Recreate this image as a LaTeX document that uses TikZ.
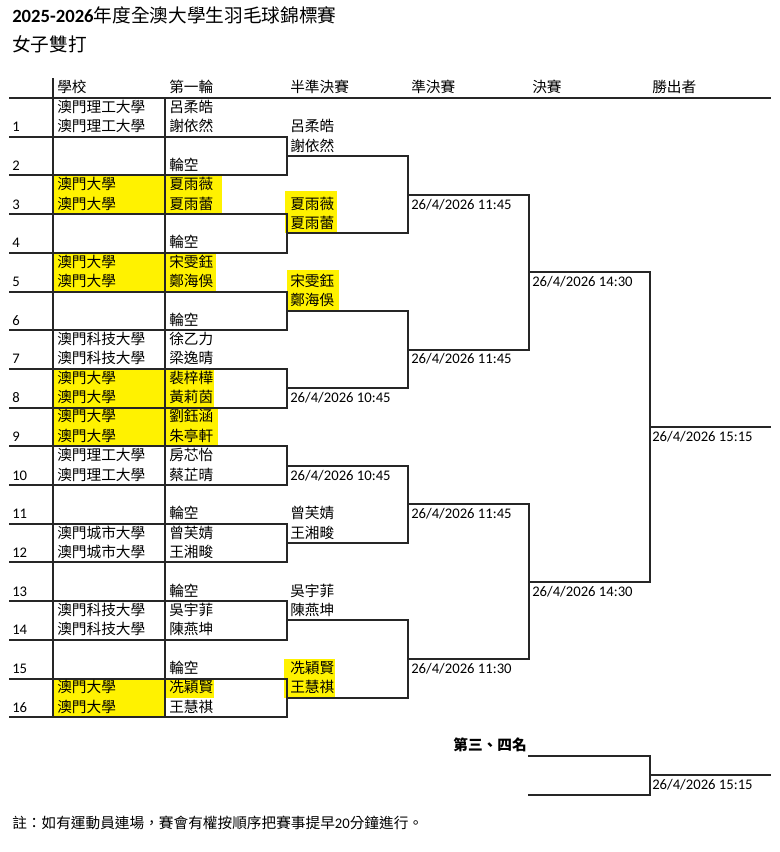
\documentclass[tikz,border=0pt]{standalone}
\usepackage{fontspec}
\setmainfont{Carlito}
\newfontfamily\cjk{Noto Sans CJK TC}[Script=CJK,Language=Chinese Traditional]
\begin{document}
\begin{tikzpicture}[x=0.75pt,y=-14.5125pt,
  ln/.style={line width=1.5pt,draw=black!85,line cap=rect,line join=miter},
  t/.style={anchor=west,inner sep=0pt,text height=0.85em,text depth=0.15em,font=\fontsize{11pt}{13pt}\selectfont},
  c/.style={t,font=\fontsize{11pt}{13pt}\selectfont\cjk},
  hl/.style={fill=yellow,draw=none}]
\useasboundingbox (0,-5.0646) rectangle (780,38.966);
\fill[white] (0,-5.0646) rectangle (780,38.966);

% ---------- highlights ----------
\fill[hl] (54,4) rectangle (165,6);   \fill[hl] (166,4) rectangle (222,6);
\fill[hl] (54,8) rectangle (165,10);  \fill[hl] (166,8) rectangle (216,10);
\fill[hl] (54,14) rectangle (165,16); \fill[hl] (166,14) rectangle (214,16);
\fill[hl] (54,16) rectangle (165,18); \fill[hl] (166,16) rectangle (218,18);
\fill[hl] (54,30) rectangle (165,32); \fill[hl] (166,30) rectangle (214,31);
\fill[hl] (285,4.8) rectangle (337,7);
\fill[hl] (287,8.9) rectangle (339,11);
\fill[hl] (284,29) rectangle (335,31);

% ---------- title ----------
\node[t,font=\fontsize{14pt}{16pt}\selectfont] (title) at (12,-4.134)
  {\bfseries 2025-2026\mdseries\cjk 年度全澳大學生羽毛球錦標賽};
\node[t,font=\fontsize{14pt}{16pt}\selectfont\cjk] (sub) at (12,-2.636) {女子雙打};

% ---------- header ----------
\node[c] (h1) at (57,-0.5) {學校};
\node[c] (h2) at (169,-0.5) {第一輪};
\node[c] (h3) at (290,-0.5) {半準決賽};
\node[c] (h4) at (411,-0.5) {準決賽};
\node[c] (h5) at (532,-0.5) {決賽};
\node[c] (h6) at (652,-0.5) {勝出者};

% ---------- grid lines ----------
\coordinate (hdL) at (10,0); \coordinate (hdR) at (770,0);
\draw[ln] (hdL) -- (hdR);
\coordinate (vaT) at (53,-1); \coordinate (vaB) at (53,32);
\coordinate (vbT) at (165,0); \coordinate (vbB) at (165,32);
\draw[ln] (vaT) -- (vaB);
\draw[ln] (vbT) -- (vbB);
\foreach \j in {1,...,16}{
  \coordinate (rl\j) at (10,2*\j);
  \coordinate (rr\j) at (287,2*\j);
  \draw[ln] (rl\j) -- (rr\j);
}

% ---------- round 1 joins ----------
\foreach \m in {1,...,8}{
  \coordinate (aT\m) at (287,4*\m-2);
  \coordinate (aB\m) at (287,4*\m);
  \draw[ln] (aT\m) -- (aB\m);
}
% ---------- round 2 ----------
\foreach \m in {1,...,4}{
  \coordinate (bT\m) at (287,8*\m-5);
  \coordinate (bTR\m) at (408,8*\m-5);
  \coordinate (bB\m) at (287,8*\m-1);
  \coordinate (bBR\m) at (408,8*\m-1);
  \coordinate (bO\m) at (408,8*\m-3);
  \coordinate (bOR\m) at (529,8*\m-3);
  \draw[ln] (bT\m) -- (bTR\m) -- (bBR\m) -- (bB\m);
  \draw[ln] (bO\m) -- (bOR\m);
}
% ---------- round 3 ----------
\foreach \m in {1,2}{
  \coordinate (cT\m) at (529,16*\m-11);
  \coordinate (cB\m) at (529,16*\m-3);
  \coordinate (cO\m) at (529,16*\m-7);
  \coordinate (cOR\m) at (650,16*\m-7);
  \draw[ln] (cT\m) -- (cB\m);
  \draw[ln] (cO\m) -- (cOR\m);
}
% ---------- final ----------
\coordinate (fT) at (650,9); \coordinate (fB) at (650,25);
\coordinate (fO) at (650,17); \coordinate (fOR) at (770,17);
\draw[ln] (fT) -- (fB);
\draw[ln] (fO) -- (fOR);
% ---------- third place ----------
\coordinate (tTL) at (529,34); \coordinate (tTR) at (650,34);
\coordinate (tBL) at (529,36); \coordinate (tBR) at (650,36);
\coordinate (tO) at (650,35); \coordinate (tOR) at (770,35);
\draw[ln] (tTL) -- (tTR) -- (tBR) -- (tBL);
\draw[ln] (tO) -- (tOR);

% ---------- seeds ----------
\foreach \i/\sa/\sb/\na/\nb in {
  1/澳門理工大學/澳門理工大學/呂柔皓/謝依然,
  2///{}/輪空,
  3/澳門大學/澳門大學/夏雨薇/夏雨蕾,
  4///{}/輪空,
  5/澳門大學/澳門大學/宋雯鈺/鄭海俁,
  6///{}/輪空,
  7/澳門科技大學/澳門科技大學/徐乙力/梁逸晴,
  8/澳門大學/澳門大學/裴梓樺/黃莉茵,
  9/澳門大學/澳門大學/劉鈺涵/朱亭軒,
  10/澳門理工大學/澳門理工大學/房芯怡/蔡芷晴,
  11///{}/輪空,
  12/澳門城市大學/澳門城市大學/曾芙婧/王湘畯,
  13///{}/輪空,
  14/澳門科技大學/澳門科技大學/吳宇菲/陳燕坤,
  15///{}/輪空,
  16/澳門大學/澳門大學/冼穎賢/王慧祺}{
  \node[t] (num\i) at (12,2*\i-0.5) {\i};
  \node[c] (sa\i) at (57,2*\i-1.5) {\sa};
  \node[c] (sb\i) at (57,2*\i-0.5) {\sb};
  \node[c] (na\i) at (169,2*\i-1.5) {\na};
  \node[c] (nb\i) at (169,2*\i-0.5) {\nb};
}

% ---------- 半準決賽 ----------
\node[c] (q1a) at (290,1.5) {呂柔皓};
\node[c] (q1b) at (290,2.5) {謝依然};
\node[c] (q2a) at (290,5.5) {夏雨薇};
\node[c] (q2b) at (290,6.5) {夏雨蕾};
\node[c] (q3a) at (290,9.5) {宋雯鈺};
\node[c] (q3b) at (290,10.5) {鄭海俁};
\node[t] (q4d) at (290,15.5) {26/4/2026 10:45};
\node[t] (q5d) at (290,19.5) {26/4/2026 10:45};
\node[c] (q6a) at (290,21.5) {曾芙婧};
\node[c] (q6b) at (290,22.5) {王湘畯};
\node[c] (q7a) at (290,25.5) {吳宇菲};
\node[c] (q7b) at (290,26.5) {陳燕坤};
\node[c] (q8a) at (290,29.5) {冼穎賢};
\node[c] (q8b) at (290,30.5) {王慧祺};

% ---------- dates ----------
\node[t] (d1) at (411,5.5) {26/4/2026 11:45};
\node[t] (d2) at (411,13.5) {26/4/2026 11:45};
\node[t] (d3) at (411,21.5) {26/4/2026 11:45};
\node[t] (d4) at (411,29.5) {26/4/2026 11:30};
\node[t] (e1) at (532,9.5) {26/4/2026 14:30};
\node[t] (e2) at (532,25.5) {26/4/2026 14:30};
\node[t] (w1) at (652,17.5) {26/4/2026 15:15};
\node[t] (w2) at (652,35.5) {26/4/2026 15:15};

% ---------- third place label ----------
\node[c,anchor=east,font=\fontsize{11pt}{13pt}\selectfont\cjk\bfseries] (third) at (527,33.5) {第三、四名};

% ---------- footnote ----------
\node[t] (note) at (12,37.5) {{\cjk 註：如有運動員連場，賽會有權按順序把賽事提早}20{\cjk 分鐘進行。}};
\end{tikzpicture}
\end{document}
